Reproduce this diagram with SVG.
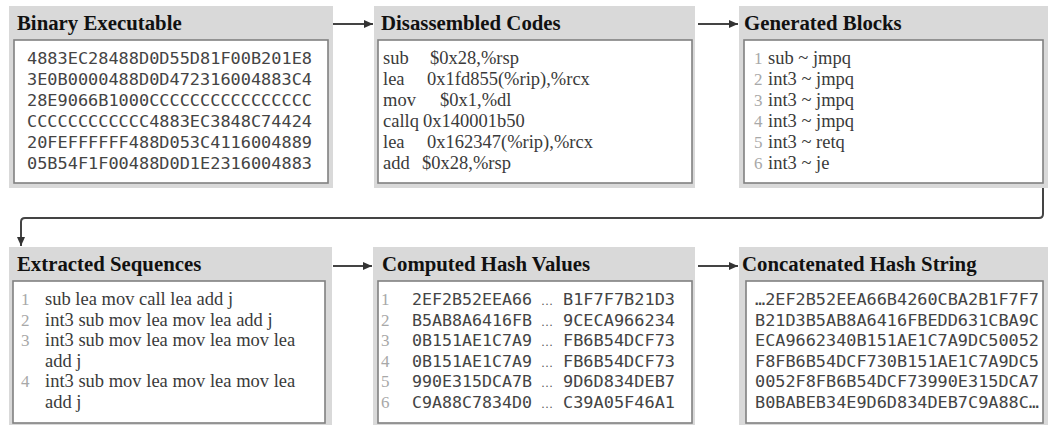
<svg xmlns="http://www.w3.org/2000/svg" width="1048" height="425" viewBox="0 0 1048 425">
<style>
.panel{fill:#d9d9d9}
.box{fill:#fff;stroke:#808080;stroke-width:1.6}
.hdr{font-family:"Liberation Serif",serif;font-weight:bold;font-size:20.8px;fill:#111}
.ser{font-family:"Liberation Serif",serif;font-size:18.5px;fill:#3a3a3a}
.mono{font-family:"DejaVu Sans Mono","Liberation Mono",monospace;font-size:15px;fill:#444}
.num{font-family:"Liberation Serif",serif;font-size:17px;fill:#a8a8a8}
.dots{font-family:"Liberation Serif",serif;font-size:12px;fill:#555}
.conn{fill:none;stroke:#444;stroke-width:2}
</style>
<defs>
<marker id="arr" markerUnits="userSpaceOnUse" markerWidth="10" markerHeight="10" refX="9" refY="5" orient="auto">
<path d="M0,1 L9,5 L0,9 Z" fill="#333"/>
</marker>
</defs>

<g id="binary-executable">
<rect class="panel" x="9" y="6" width="324" height="182"/>
<rect class="box" x="14" y="40" width="314" height="143"/>
<text class="hdr" x="17" y="30">Binary Executable</text>
<g class="mono">
<text x="27" y="64" textLength="285" lengthAdjust="spacingAndGlyphs">4883EC28488D0D55D81F00B201E8</text>
<text x="27" y="85" textLength="285" lengthAdjust="spacingAndGlyphs">3E0B0000488D0D472316004883C4</text>
<text x="27" y="106" textLength="285" lengthAdjust="spacingAndGlyphs">28E9066B1000CCCCCCCCCCCCCCCC</text>
<text x="27" y="127" textLength="285" lengthAdjust="spacingAndGlyphs">CCCCCCCCCCCC4883EC3848C74424</text>
<text x="27" y="148" textLength="285" lengthAdjust="spacingAndGlyphs">20FEFFFFFF488D053C4116004889</text>
<text x="27" y="168.5" textLength="285" lengthAdjust="spacingAndGlyphs">05B54F1F00488D0D1E2316004883</text>
</g>
</g>

<g id="disassembled-codes">
<rect class="panel" x="374" y="6" width="321" height="182"/>
<rect class="box" x="378" y="40" width="314" height="143"/>
<text class="hdr" x="381" y="30">Disassembled Codes</text>
<g class="ser">
<text x="383" y="64">sub</text><text x="430" y="64">$0x28,%rsp</text>
<text x="383" y="85">lea</text><text x="427" y="85">0x1fd855(%rip),%rcx</text>
<text x="383" y="106">mov</text><text x="440" y="106">$0x1,%dl</text>
<text x="383" y="127">callq</text><text x="423" y="127">0x140001b50</text>
<text x="383" y="148">lea</text><text x="427" y="148">0x162347(%rip),%rcx</text>
<text x="383" y="168.5">add</text><text x="422" y="168.5">$0x28,%rsp</text>
</g>
</g>

<g id="generated-blocks">
<rect class="panel" x="739" y="6" width="309" height="182"/>
<rect class="box" x="744" y="40" width="299" height="143"/>
<text class="hdr" x="744" y="30">Generated Blocks</text>
<g class="num">
<text x="754" y="64">1</text><text x="754" y="85">2</text><text x="754" y="106">3</text>
<text x="754" y="127">4</text><text x="754" y="148">5</text><text x="754" y="168.5">6</text>
</g>
<g class="ser">
<text x="768" y="64">sub ~ jmpq</text>
<text x="768" y="85">int3 ~ jmpq</text>
<text x="768" y="106">int3 ~ jmpq</text>
<text x="768" y="127">int3 ~ jmpq</text>
<text x="768" y="148">int3 ~ retq</text>
<text x="768" y="168.5">int3 ~ je</text>
</g>
</g>

<g id="extracted-sequences">
<rect class="panel" x="9" y="247" width="323" height="178"/>
<rect class="box" x="13" y="281" width="312" height="142"/>
<text class="hdr" x="17" y="271">Extracted Sequences</text>
<g class="num">
<text x="21" y="305">1</text><text x="21" y="325.5">2</text><text x="21" y="346">3</text><text x="21" y="387">4</text>
</g>
<g class="ser">
<text x="45" y="305">sub lea mov call lea add j</text>
<text x="45" y="325.5">int3 sub mov lea mov lea add j</text>
<text x="45" y="346">int3 sub mov lea mov lea mov lea</text>
<text x="45" y="366.5">add j</text>
<text x="45" y="387">int3 sub mov lea mov lea mov lea</text>
<text x="45" y="408">add j</text>
</g>
</g>

<g id="computed-hash-values">
<rect class="panel" x="373" y="247" width="322" height="178"/>
<rect class="box" x="378" y="281" width="314" height="142"/>
<text class="hdr" x="382" y="271">Computed Hash Values</text>
<g class="num">
<text x="381" y="305">1</text><text x="381" y="325.5">2</text><text x="381" y="346">3</text>
<text x="381" y="366.5">4</text><text x="381" y="387">5</text><text x="381" y="408">6</text>
</g>
<g class="mono">
<text x="412" y="305" textLength="120" lengthAdjust="spacingAndGlyphs">2EF2B52EEA66</text>
<text x="412" y="325.5" textLength="120" lengthAdjust="spacingAndGlyphs">B5AB8A6416FB</text>
<text x="412" y="346" textLength="120" lengthAdjust="spacingAndGlyphs">0B151AE1C7A9</text>
<text x="412" y="366.5" textLength="120" lengthAdjust="spacingAndGlyphs">0B151AE1C7A9</text>
<text x="412" y="387" textLength="120" lengthAdjust="spacingAndGlyphs">990E315DCA7B</text>
<text x="412" y="408" textLength="120" lengthAdjust="spacingAndGlyphs">C9A88C7834D0</text>
<text x="563" y="305" textLength="112" lengthAdjust="spacingAndGlyphs">B1F7F7B21D3</text>
<text x="563" y="325.5" textLength="112" lengthAdjust="spacingAndGlyphs">9CECA966234</text>
<text x="563" y="346" textLength="112" lengthAdjust="spacingAndGlyphs">FB6B54DCF73</text>
<text x="563" y="366.5" textLength="112" lengthAdjust="spacingAndGlyphs">FB6B54DCF73</text>
<text x="563" y="387" textLength="112" lengthAdjust="spacingAndGlyphs">9D6D834DEB7</text>
<text x="563" y="408" textLength="112" lengthAdjust="spacingAndGlyphs">C39A05F46A1</text>
</g>
<g class="dots">
<text x="541" y="305">…</text><text x="541" y="325.5">…</text><text x="541" y="346">…</text>
<text x="541" y="366.5">…</text><text x="541" y="387">…</text><text x="541" y="408">…</text>
</g>
</g>

<g id="concatenated-hash-string">
<rect class="panel" x="739" y="247" width="309" height="178"/>
<rect class="box" x="746" y="281" width="297" height="142"/>
<text class="hdr" x="742" y="271">Concatenated Hash String</text>
<g class="mono">
<text x="755" y="305" textLength="284" lengthAdjust="spacingAndGlyphs">…2EF2B52EEA66B4260CBA2B1F7F7</text>
<text x="755" y="325.5" textLength="284" lengthAdjust="spacingAndGlyphs">B21D3B5AB8A6416FBEDD631CBA9C</text>
<text x="755" y="346" textLength="284" lengthAdjust="spacingAndGlyphs">ECA9662340B151AE1C7A9DC50052</text>
<text x="755" y="366.5" textLength="284" lengthAdjust="spacingAndGlyphs">F8FB6B54DCF730B151AE1C7A9DC5</text>
<text x="755" y="387" textLength="284" lengthAdjust="spacingAndGlyphs">0052F8FB6B54DCF73990E315DCA7</text>
<text x="755" y="408" textLength="284" lengthAdjust="spacingAndGlyphs">B0BABEB34E9D6D834DEB7C9A88C…</text>
</g>
</g>

<g id="connectors">
<line class="conn" x1="333" y1="24" x2="373" y2="24" marker-end="url(#arr)"/>
<line class="conn" x1="698" y1="24" x2="738" y2="24" marker-end="url(#arr)"/>
<path class="conn" d="M1043,188 V214 Q1043,218 1039,218 H25 Q21,218 21,222 V246" stroke-width="2.4" marker-end="url(#arr)"/>
<line class="conn" x1="333" y1="266" x2="372" y2="266" marker-end="url(#arr)"/>
<line class="conn" x1="698" y1="266" x2="738" y2="266" marker-end="url(#arr)"/>
</g>
</svg>
